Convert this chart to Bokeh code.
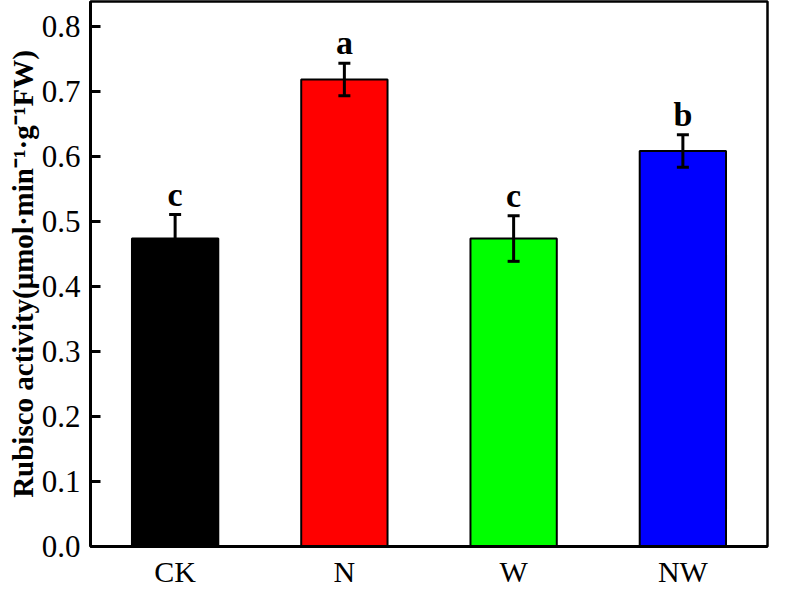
from bokeh.plotting import figure
from bokeh.models import ColumnDataSource, Whisker, TeeHead, Range1d, FixedTicker, PrintfTickFormatter
from bokeh.core.properties import value
from bokeh.embed import file_html
from bokeh.resources import INLINE

categories = ["CK", "N", "W", "NW"]
means = [0.474, 0.719, 0.474, 0.609]
errors = [0.037, 0.025, 0.035, 0.025]
letters = ["c", "a", "c", "b"]
colors = ["#000000", "#FF0000", "#00FF00", "#0000FF"]
y_ticks = [0.0, 0.1, 0.2, 0.3, 0.4, 0.5, 0.6, 0.7, 0.8]

upper = [m + e for m, e in zip(means, errors)]
lower = [m - e for m, e in zip(means, errors)]
src = ColumnDataSource(dict(cat=categories, top=means, upper=upper, lower=lower,
                            color=colors, letter=letters))

FONT = "Liberation Serif"

p = figure(x_range=categories, y_range=Range1d(0, 0.839),
           width=769, height=590,
           output_backend="svg", toolbar_location=None,
           min_border_left=90, min_border_right=2, min_border_top=1, min_border_bottom=38)

p.vbar(x="cat", top="top", width=0.51, source=src, fill_color="color",
       line_color="black", line_width=2)

w = Whisker(base="cat", upper="upper", lower="lower", source=src, dimension="height",
            line_color="black", line_width=3, level="overlay",
            upper_head=TeeHead(size=12, line_width=3, line_color="black"),
            lower_head=TeeHead(size=12, line_width=3, line_color="black"))
p.add_layout(w)

p.text(x="cat", y="upper", text="letter", source=src, text_align="center",
       text_baseline="bottom", y_offset=-2, text_font=value(FONT),
       text_font_style="bold", text_font_size="34px", text_color="black")

p.xgrid.visible = False
p.ygrid.visible = False
p.outline_line_color = "black"
p.outline_line_width = 2.5

p.yaxis.ticker = FixedTicker(ticks=y_ticks)
p.yaxis.formatter = PrintfTickFormatter(format="%.1f")
p.yaxis.minor_tick_line_color = None
p.yaxis.major_tick_in = 10
p.yaxis.major_tick_out = 0
p.yaxis.major_tick_line_width = 3
p.yaxis.axis_line_width = 3
p.yaxis.major_label_text_font = FONT
p.yaxis.major_label_text_font_size = "31px"
p.yaxis.major_label_text_color = "black"
p.yaxis.major_label_standoff = 10
p.yaxis.axis_label = "Rubisco activity(μmol·min⁻¹·g⁻¹FW)"
p.yaxis.axis_label_text_font = FONT
p.yaxis.axis_label_text_font_style = "bold"
p.yaxis.axis_label_text_font_size = "29px"
p.yaxis.axis_label_text_color = "black"
p.yaxis.axis_label_standoff = 0

p.xaxis.major_tick_line_color = None
p.xaxis.minor_tick_line_color = None
p.xaxis.axis_line_width = 3
p.xaxis.major_label_text_font = FONT
p.xaxis.major_label_text_font_size = "30px"
p.xaxis.major_label_text_color = "black"
p.xaxis.major_label_standoff = 2

open("out.html", "w").write(file_html(p, INLINE))
